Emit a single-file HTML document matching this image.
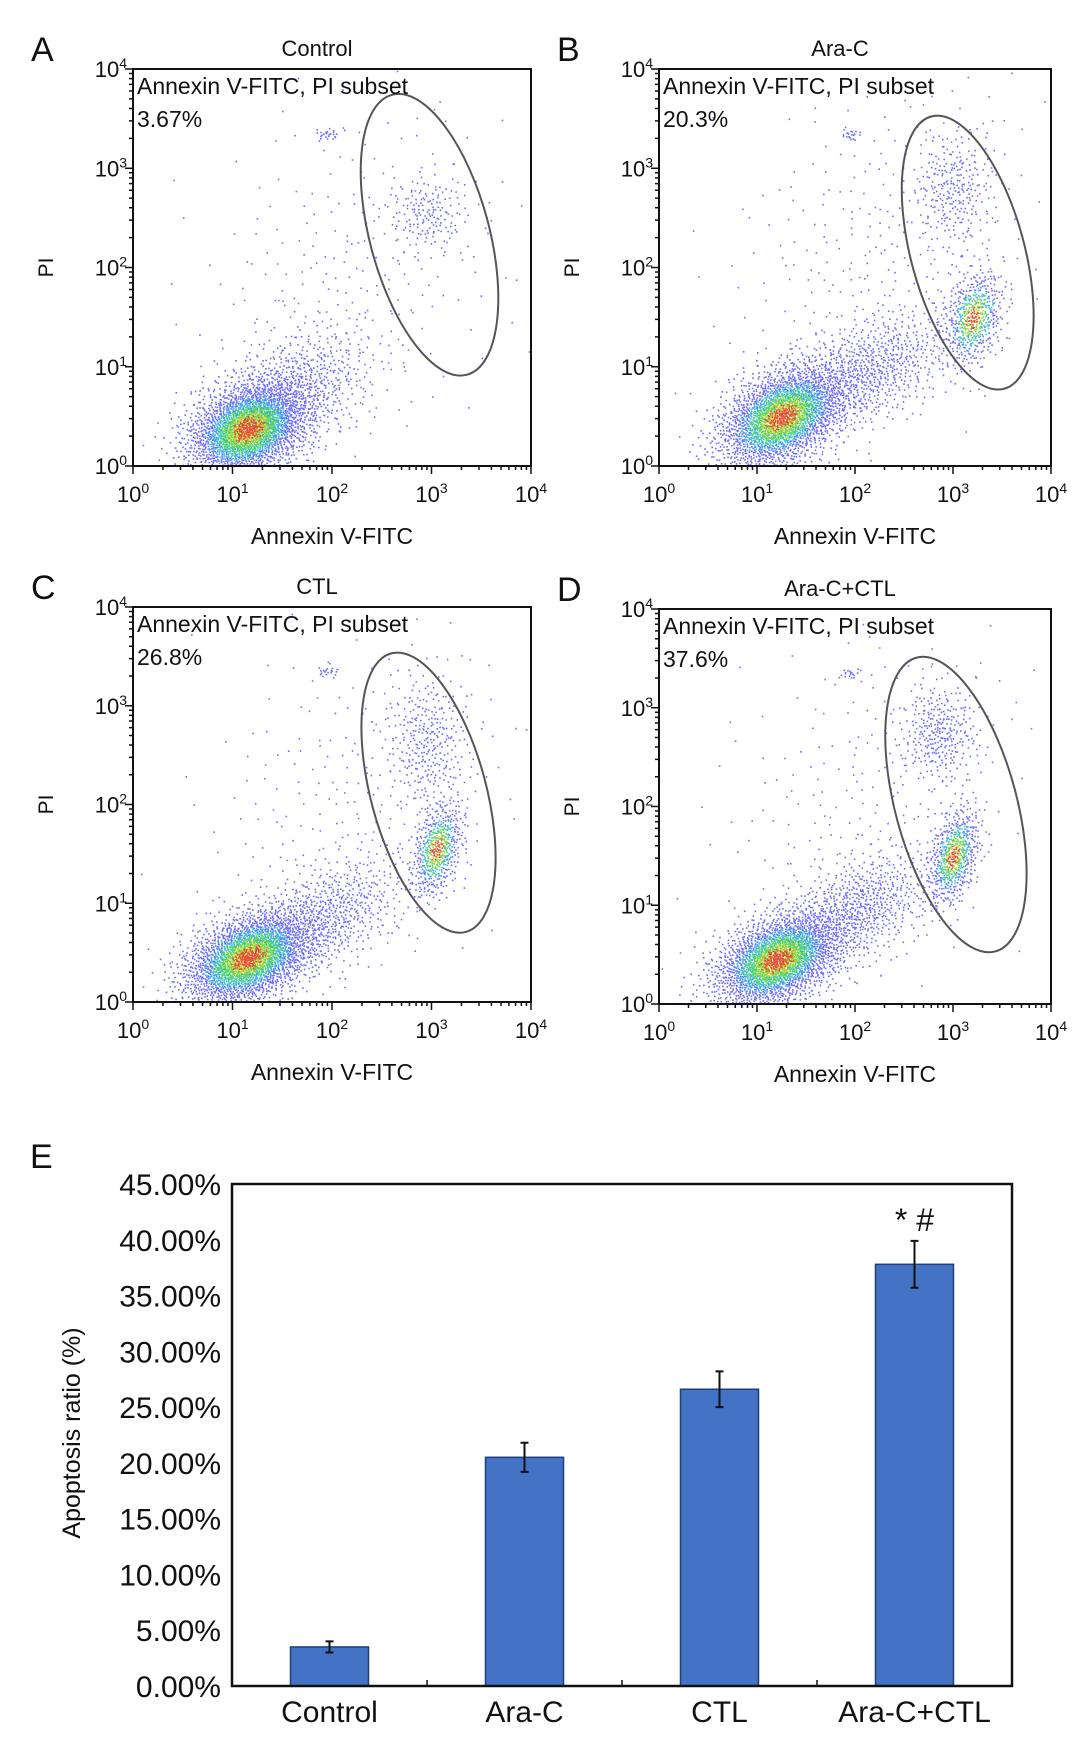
<!DOCTYPE html>
<html><head><meta charset="utf-8">
<style>html,body{margin:0;padding:0;background:#fff}svg{display:block}text{font-family:"Liberation Sans",sans-serif;fill:#111}</style>
</head><body>
<svg id="fig" width="1087" height="1743" viewBox="0 0 1087 1743"></svg>
<script>
// ---------- Bar chart data ----------
const barCategories = ["Control","Ara-C","CTL","Ara-C+CTL"];
const barValues = [3.5, 20.5, 26.6, 37.8];
const barErrors = [0.5, 1.3, 1.6, 2.1];
const barTicks = [0,5,10,15,20,25,30,35,40,45];
const barTickLabels = ["0.00%","5.00%","10.00%","15.00%","20.00%","25.00%","30.00%","35.00%","40.00%","45.00%"];
// ---------- Flow panels data ----------
const panelTitles = ["Control","Ara-C","CTL","Ara-C+CTL"];
const panelLetters = ["A","B","C","D"];
const panelPercents = ["3.67%","20.3%","26.8%","37.6%"];
const logTicks = [0,1,2,3,4];
// clusters: [meanLogX, meanLogY, sdX, sdY, corr, count, dense(1/0)]
const clustersA = [[1.15,0.38,0.3,0.24,0.3,2600,1],[1.6,0.75,0.4,0.32,0.4,700,0],[2.95,2.55,0.2,0.2,0,160,0],[2.2,1.9,0.8,0.9,0.3,260,0],[1.95,3.35,0.07,0.03,0,25,0]];
const clustersB = [[1.25,0.5,0.32,0.26,0.4,2500,1],[2.1,0.95,0.45,0.3,0.5,800,0],[3.2,1.5,0.15,0.24,0.3,550,1],[3.0,2.8,0.2,0.3,0,260,0],[2.3,2.2,0.8,0.9,0.3,300,0],[1.95,3.35,0.06,0.03,0,20,0]];
const clustersC = [[1.15,0.45,0.32,0.24,0.4,2600,1],[1.9,0.85,0.4,0.3,0.5,700,0],[3.05,1.55,0.13,0.24,0.4,550,1],[2.95,2.65,0.2,0.35,0,300,0],[2.3,2.1,0.8,0.9,0.3,260,0],[1.95,3.35,0.06,0.03,0,20,0]];
const clustersD = [[1.2,0.45,0.32,0.24,0.4,2500,1],[2.0,0.95,0.4,0.3,0.5,750,0],[3.0,1.5,0.13,0.24,0.4,600,1],[2.85,2.75,0.2,0.25,0,300,0],[2.2,2.1,0.8,0.9,0.3,240,0],[1.95,3.35,0.06,0.03,0,20,0]];
const panelClusters = [clustersA, clustersB, clustersC, clustersD];
// gate ellipses in log units: [cx, cy, rxLog, ryLog, angleDeg]
const gates = [[2.98,2.33,0.6,1.46,-15],[3.15,2.15,0.58,1.42,-15],[2.97,2.12,0.58,1.46,-15],[3.03,2.02,0.62,1.54,-15]];
const panelFrames = [[133,69,531,466],[659,69,1051,466],[133,607,531,1002],[659,609,1051,1004]];

const NS="http://www.w3.org/2000/svg";
const svg=document.getElementById('fig');
function mk(tag,attrs,parent){const e=document.createElementNS(NS,tag);for(const k in attrs)e.setAttribute(k,attrs[k]);(parent||svg).appendChild(e);return e;}
function halton(i,b){let f=1,r=0;while(i>0){f/=b;r+=f*(i%b);i=Math.floor(i/b);}return r;}

panelFrames.forEach((fr,p)=>{
  const [x0,y0,x1,y1]=fr;
  const g=mk('g',{});
  
  
  const sx=v=>x0+(x1-x0)*v/4, sy=v=>y1-(y1-y0)*v/4;
  const pts=mk('g',{},g);
  
  
  let idx=1+p*7919;
  const layers=[[],[],[],[],[]];
  panelClusters[p].forEach(c=>{
    const [mx,my,sdx,sdy,rho,n,dense]=c;
    for(let i=0;i<n;i++){idx++;
      const u1=Math.max(halton(idx,2),1e-6),u2=halton(idx,3);
      const r=Math.sqrt(-2*Math.log(u1));const z1=r*Math.cos(2*Math.PI*u2),z2=r*Math.sin(2*Math.PI*u2);
      const lx=mx+sdx*z1, ly=my+sdy*(rho*z1+Math.sqrt(1-rho*rho)*z2);
      if(lx<0.02||lx>3.98||ly<0.01||ly>3.99)continue;
      let col=0;
      if(dense){const rr=r+(halton(idx,5)-0.5)*0.5;
        if(rr<0.35)col=4;else if(rr<0.55)col=3;else if(rr<0.9)col=2;else if(rr<1.25)col=1;}
      layers[col].push([sx(lx),sy(ly)]);
    }
  });
  const cols=['#3b3bff','#22b0e0','#3fd23f','#c8d020','#e03a1a'];
  layers.forEach((L,ci)=>{let d='';L.forEach(q=>{d+='M'+q[0].toFixed(1)+' '+q[1].toFixed(1)+'h1.6v1.6h-1.6z';});
    const path=mk('path',{d:d,fill:cols[ci],'fill-opacity':ci==0?0.75:0.85},pts);
    
    });
  const gt=gates[p];const gcx=sx(gt[0]),gcy=sy(gt[1]),grx=(x1-x0)*gt[2]/4,gry=(y1-y0)*gt[3]/4;
  const el=mk('ellipse',{cx:gcx,cy:gcy,rx:grx,ry:gry,transform:`rotate(${gt[4]} ${gcx} ${gcy})`,fill:'none',stroke:'#555','stroke-width':2},g);
  
  
  const rc=mk('rect',{x:x0,y:y0,width:x1-x0,height:y1-y0,fill:'none',stroke:'#111','stroke-width':2},g);
  
  
  let td='';
  for(let d=0;d<4;d++){for(let m=1;m<10;m++){const v=d+Math.log10(m);const len=m==1?8:4;
    td+=`M${sx(v)} ${y1}v${len}M${x0} ${sy(v)}h${-len}`;}}
  td+=`M${x1} ${y1}v8M${x0} ${y0}h-8`;
  const tk=mk('path',{d:td,stroke:'#111','stroke-width':1.5,fill:'none'},g);
  
  
  logTicks.forEach(t=>{
    const xt=mk('text',{x:sx(t),y:y1+36,'font-size':22,'text-anchor':'middle'},g);
    xt.innerHTML='10<tspan dy="-9" font-size="14">'+t+'</tspan>';
    
    
    const yt=mk('text',{x:x0-6,y:sy(t)+8,'font-size':22,'text-anchor':'end'},g);
    yt.innerHTML='10<tspan dy="-9" font-size="14">'+t+'</tspan>';
    
    
  });
  const xtl=mk('text',{x:(x0+x1)/2,y:y1+78,'font-size':23,'text-anchor':'middle'},g);xtl.textContent='Annexin V-FITC';
  
  
  const ytl=mk('text',{x:0,y:0,'font-size':21,'text-anchor':'middle',transform:`translate(${x0-80},${(y0+y1)/2}) rotate(-90)`},g);ytl.textContent='PI';
  
  
  const ttl=mk('text',{x:(x0+x1)/2-15,y:y0-13,'font-size':22,'text-anchor':'middle'},g);ttl.textContent=panelTitles[p];
  
  
  const lt=mk('text',{x:x0-102,y:y0-8,'font-size':34},g);lt.textContent=panelLetters[p];
  
  
  const sub=mk('text',{x:x0+4,y:y0+25,'font-size':23},g);sub.textContent='Annexin V-FITC, PI subset';
  
  
  const pc=mk('text',{x:x0+4,y:y0+58,'font-size':23},g);pc.textContent=panelPercents[p];
  
  
});

// ---------- Bar chart ----------
(function(){
  const x0=232,y0=1184,x1=1012,y1=1686,ymax=45;
  const g=mk('g',{});
  
  
  const sy=v=>y1-(y1-y0)*v/ymax;
  const band=(x1-x0)/barCategories.length;
  const cx=i=>x0+band*(i+0.5);
  const bw=78;
  barValues.forEach((v,i)=>{
    const r=mk('rect',{x:cx(i)-bw/2,y:sy(v),width:bw,height:y1-sy(v),fill:'#4472c4',stroke:'#1f3f7a','stroke-width':1.5},g);
    
    
    const e=barErrors[i],xc=cx(i);
    const eb=mk('path',{d:`M${xc} ${sy(v+e)}V${sy(v-e)}M${xc-4} ${sy(v+e)}h8M${xc-4} ${sy(v-e)}h8`,stroke:'#111','stroke-width':2,fill:'none'},g);
    
    
    const xl=mk('text',{x:xc,y:1722,'font-size':30,'text-anchor':'middle'},g);xl.textContent=barCategories[i];
    
    
  });
  const fr=mk('rect',{x:x0,y:y0,width:x1-x0,height:y1-y0,fill:'none',stroke:'#111','stroke-width':2.5},g);
  
  
  let td='';for(let i=1;i<barCategories.length;i++)td+=`M${x0+band*i} ${y1}v-6`;
  const tk=mk('path',{d:td,stroke:'#111','stroke-width':1.5},g);
  
  
  barTicks.forEach((t,i)=>{
    const tl=mk('text',{x:x0-11,y:sy(t)+11,'font-size':30,'text-anchor':'end'},g);tl.textContent=barTickLabels[i];
    
    
  });
  const yt=mk('text',{x:0,y:0,'font-size':25,'text-anchor':'middle',transform:`translate(80,1433) rotate(-90)`},g);yt.textContent='Apoptosis ratio (%)';
  
  
  const sig=mk('text',{x:cx(3),y:sy(barValues[3]+barErrors[3])-10,'font-size':32,'text-anchor':'middle'},g);sig.textContent='* #';
  
  
  const le=mk('text',{x:30,y:1168,'font-size':34},g);le.textContent='E';
  
  
})();
</script>
</body></html>
